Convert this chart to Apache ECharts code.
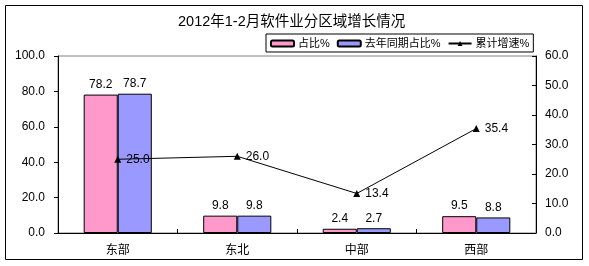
<!DOCTYPE html>
<html><head><meta charset="utf-8">
<script src="https://cdn.jsdelivr.net/npm/echarts@6/dist/echarts.min.js"></script>
<style>html,body{margin:0;padding:0;background:#fff}#c{width:589px;height:266px}</style>
</head><body><div id="c"></div>
<script>
const categories = ['东部','东北','中部','西部'];
const shareNow = [78.2, 9.8, 2.4, 9.5];
const shareLastYear = [78.7, 9.8, 2.7, 8.8];
const growth = [25.0, 26.0, 13.4, 35.4];
const leftTicks = {min:0, max:100, interval:20};
const rightTicks = {min:0, max:60, interval:10};

const FF = '"Liberation Sans", "Noto Sans CJK SC", sans-serif';
const chart = echarts.init(document.getElementById('c'), null, {renderer:'canvas'});
chart.setOption({
  animation:false,
  textStyle:{fontFamily:FF, color:'#000'},
  graphic:[{type:'rect', shape:{x:5.5,y:5.5,width:577,height:254}, style:{fill:'none', stroke:'#000', lineWidth:1}, silent:true}],
  title:{text:'2012年1-2月软件业分区域增长情况', left:178, top:15, padding:0,
    textStyle:{fontSize:14.5, fontWeight:'normal', color:'#000', fontFamily:FF}},
  legend:{left:266, top:34, padding:[4,4,3,4], itemGap:7, itemWidth:23, itemHeight:6,
    borderColor:'#000', borderWidth:1, backgroundColor:'#fff',
    textStyle:{fontSize:11, color:'#000', fontFamily:FF, padding:[0,0,0,-1]},
    data:['占比%','去年同期占比%','累计增速%']},
  grid:{left:58, right:53, top:56, bottom:33, show:true, borderColor:'#808080', borderWidth:1},
  xAxis:{type:'category', data:categories,
    axisLine:{lineStyle:{color:'#000'}},
    axisTick:{show:true, inside:true, length:4, lineStyle:{color:'#000'}},
    axisLabel:{fontSize:12, color:'#000', margin:12}},
  yAxis:[
    {type:'value', min:leftTicks.min, max:leftTicks.max, interval:leftTicks.interval, position:'left',
      axisLine:{show:true, lineStyle:{color:'#000'}},
      axisTick:{show:true, length:4, lineStyle:{color:'#000'}},
      splitLine:{show:false},
      axisLabel:{fontSize:12, color:'#000', margin:13, formatter:v=>v.toFixed(1)}},
    {type:'value', min:rightTicks.min, max:rightTicks.max, interval:rightTicks.interval, position:'right',
      axisLine:{show:true, lineStyle:{color:'#000'}},
      axisTick:{show:true, inside:true, length:4, lineStyle:{color:'#000'}},
      splitLine:{show:false},
      axisLabel:{fontSize:12, color:'#000', margin:9, formatter:v=>v.toFixed(1)}}
  ],
  series:[
    {name:'占比%', type:'bar', data:shareNow, barGap:'0%', barCategoryGap:'43%',
      itemStyle:{color:'#FF99CC', borderColor:'#000', borderWidth:1},
      label:{show:true, position:'top', distance:4, fontSize:12, color:'#000', formatter:p=>p.value.toFixed(1)}},
    {name:'去年同期占比%', type:'bar', data:shareLastYear, barGap:'0%', barCategoryGap:'43%',
      itemStyle:{color:'#9999FF', borderColor:'#000', borderWidth:1},
      label:{show:true, position:'top', distance:4, fontSize:12, color:'#000', formatter:p=>p.value.toFixed(1)}},
    {name:'累计增速%', type:'line', yAxisIndex:1, data:growth, symbol:'triangle', symbolSize:7,
      lineStyle:{color:'#000', width:1}, itemStyle:{color:'#000'},
      label:{show:true, position:'right', distance:5, fontSize:12, color:'#000', formatter:p=>p.value.toFixed(1)}}
  ]
});
</script></body></html>
